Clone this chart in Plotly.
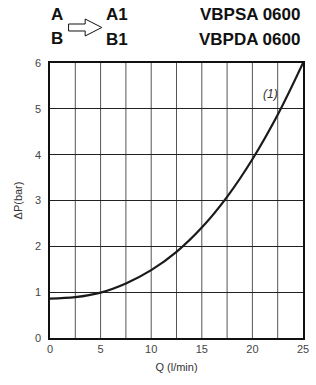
import plotly.graph_objects as go

# Data
flow_q = [0, 2.5, 5, 7.5, 10, 12.5, 15, 17.5, 20, 22.5, 25]
delta_p = [0.86, 0.89, 0.99, 1.19, 1.48, 1.88, 2.41, 3.08, 3.9, 4.87, 6.0]
x_ticks = [0, 5, 10, 15, 20, 25]
y_ticks = [0, 1, 2, 3, 4, 5, 6]
x_grid = [2.5 * i for i in range(11)]
curve_label = "(1)"

W, H = 316, 385
ML, MR, MT, MB = 50, 7, 63, 47
PW, PH = W - ML - MR, H - MT - MB

def px(x):
    return (x - ML) / PW

def py(y):
    return (H - MB - y) / PH

fig = go.Figure()
fig.add_trace(go.Scatter(
    x=flow_q, y=delta_p, mode="lines",
    line=dict(color="#1a1a1a", width=2.2, shape="spline", smoothing=1.0),
    hoverinfo="skip", showlegend=False,
))

font = "Liberation Sans, Arial, sans-serif"

fig.update_layout(
    width=W, height=H,
    margin=dict(l=ML, r=MR, t=MT, b=MB),
    paper_bgcolor="white", plot_bgcolor="white",
    font=dict(family=font, size=11, color="#333"),
    xaxis=dict(
        range=[0, 25], tickvals=x_ticks, ticks="", showgrid=False,
        zeroline=False, showline=True, linecolor="#111", linewidth=1.5,
        mirror=True, title=dict(text="Q (l/min)", standoff=9,
                                font=dict(size=11, color="#333")),
        tickfont=dict(size=11, color="#444"),
    ),
    yaxis=dict(
        range=[0, 6], tickvals=y_ticks, ticks="", showgrid=True,
        gridcolor="#222", gridwidth=1, zeroline=False, showline=True,
        linecolor="#111", linewidth=1.5, mirror=True,
        ticklabelstandoff=5,
        title=dict(text="ΔP(bar)", standoff=10, font=dict(size=11, color="#333")),
        tickfont=dict(size=11, color="#444"),
    ),
)

shapes = []
for g in x_grid[1:-1]:
    shapes.append(dict(type="line", xref="x", yref="paper", x0=g, x1=g, y0=0, y1=1,
                       line=dict(color="#555", width=1), layer="below"))

# hollow arrow in header
pts = [(69, 24), (86, 24), (86, 19), (103, 27.5), (86, 36), (86, 31), (69, 31)]
path = "M " + " L ".join(f"{px(a):.4f},{py(b):.4f}" for a, b in pts) + " Z"
shapes.append(dict(type="path", xref="paper", yref="paper", path=path,
                   line=dict(color="#111", width=1), fillcolor="white"))
fig.update_layout(shapes=shapes)

def txt(s, x, y, anchor="left", bold=True, size=17, italic=False):
    t = f"<b>{s}</b>" if bold else s
    if italic:
        t = f"<i>{t}</i>"
    fig.add_annotation(text=t, xref="paper", yref="paper", x=px(x), y=py(y),
                       xanchor=anchor, yanchor="middle", showarrow=False,
                       font=dict(family=font, size=size, color="#111"))

txt("A", 49, 15)
txt("B", 49, 38)
txt("A1", 105, 15)
txt("B1", 105, 39)
txt("VBPSA 0600", 308, 15, anchor="right")
txt("VBPDA 0600", 308, 39, anchor="right")

fig.add_annotation(text=f"<i>{curve_label}</i>", x=21.8, y=5.32, xref="x", yref="y",
                   showarrow=False, font=dict(family=font, size=12, color="#333"))

fig.write_html("out.html", config={"displayModeBar": False},
               post_script="document.body.style.margin='0';")
